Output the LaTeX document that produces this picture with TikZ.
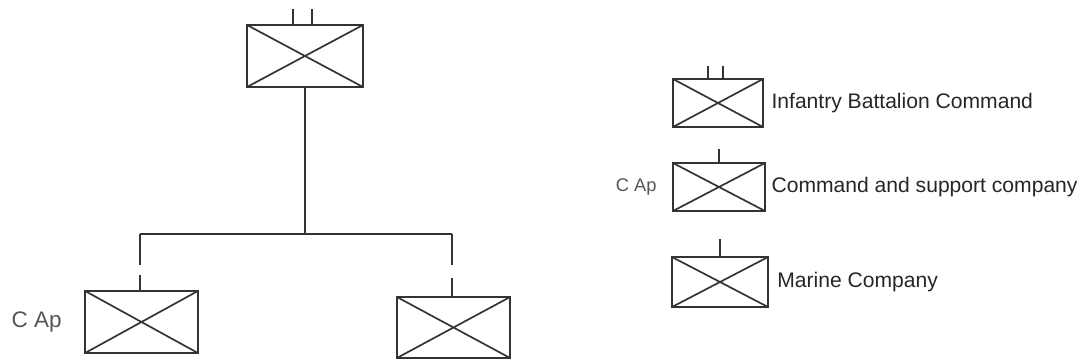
\documentclass[tikz,border=0pt]{standalone}
\usepackage{fontspec}
\setmainfont{Liberation Sans}
\usepackage{tikz}
\usetikzlibrary{positioning}

\definecolor{inkgray}{HTML}{333333}
\definecolor{textgray}{HTML}{262626}
\definecolor{capgray}{HTML}{555555}

\tikzset{
  unitbox/.style={draw=inkgray, rectangle, inner sep=0pt, line width=1.5pt,
    path picture={\draw[inkgray, line width=1.2pt]
      (path picture bounding box.north west) -- (path picture bounding box.south east)
      (path picture bounding box.south west) -- (path picture bounding box.north east);}},
  link/.style={draw=inkgray, line width=1.5pt},
  legendtext/.style={inner sep=0pt, anchor=west, text=textgray, font=\fontsize{15}{17}\selectfont},
  captext/.style={inner sep=0pt, text=capgray}
}

\begin{document}
\begin{tikzpicture}[x=0.025cm,y=-0.025cm]
\useasboundingbox (0,0) rectangle (1080,360);
% tree
\node[unitbox, minimum width=2.9cm, minimum height=1.55cm] (bn) at (305,56) {};
\node[unitbox, minimum width=2.82cm, minimum height=1.55cm] (cap) at (141.5,322) {};
\node[unitbox, minimum width=2.82cm, minimum height=1.52cm] (mc) at (453.5,327.5) {};
\node[captext, left=0.55cm of cap, font=\fontsize{16}{18}\selectfont] (caplabel) {C Ap};
\draw[link] ([xshift=-0.3cm]bn.north) -- ++(0,-15);
\draw[link] ([xshift=0.18cm]bn.north) -- ++(0,-15);
\coordinate (bar) at (303,234);
\coordinate (capup) at (140,265);
\coordinate (caplow) at (140,275);
\coordinate (mcup) at (452,265);
\coordinate (mclow) at (452,278);
\draw[link] (bn.south) -- (bn.south |- bar);
\draw[link] (capup |- bar) -- (mcup |- bar);
\draw[link] (capup |- bar) -- (capup);
\draw[link] (caplow) -- (caplow |- cap.north);
\draw[link] (mcup |- bar) -- (mcup);
\draw[link] (mclow) -- (mclow |- mc.north);
% legend
\node[unitbox, minimum width=2.25cm, minimum height=1.2cm] (lbn) at (718,103) {};
\node[unitbox, minimum width=2.3cm, minimum height=1.2cm] (lcap) at (719,187) {};
\node[unitbox, minimum width=2.4cm, minimum height=1.25cm] (lmc) at (720,282) {};
\draw[link] ([xshift=-0.25cm]lbn.north) -- ++(0,-12);
\draw[link] ([xshift=0.12cm]lbn.north) -- ++(0,-12);
\draw[link] (lcap.north) -- ++(0,-13);
\draw[link] (lmc.north) -- ++(0,-17);
\node[legendtext, right=0.18cm of lbn] (lbntext) {Infantry Battalion Command};
\node[legendtext, right=0.13cm of lcap] (lcaptext) {Command and support company};
\node[legendtext, right=0.2cm of lmc] (lmctext) {Marine Company};
\node[captext, left=0.38cm of lcap, font=\fontsize{13}{15}\selectfont] (lcaplabel) {C Ap};
\end{tikzpicture}
\end{document}
